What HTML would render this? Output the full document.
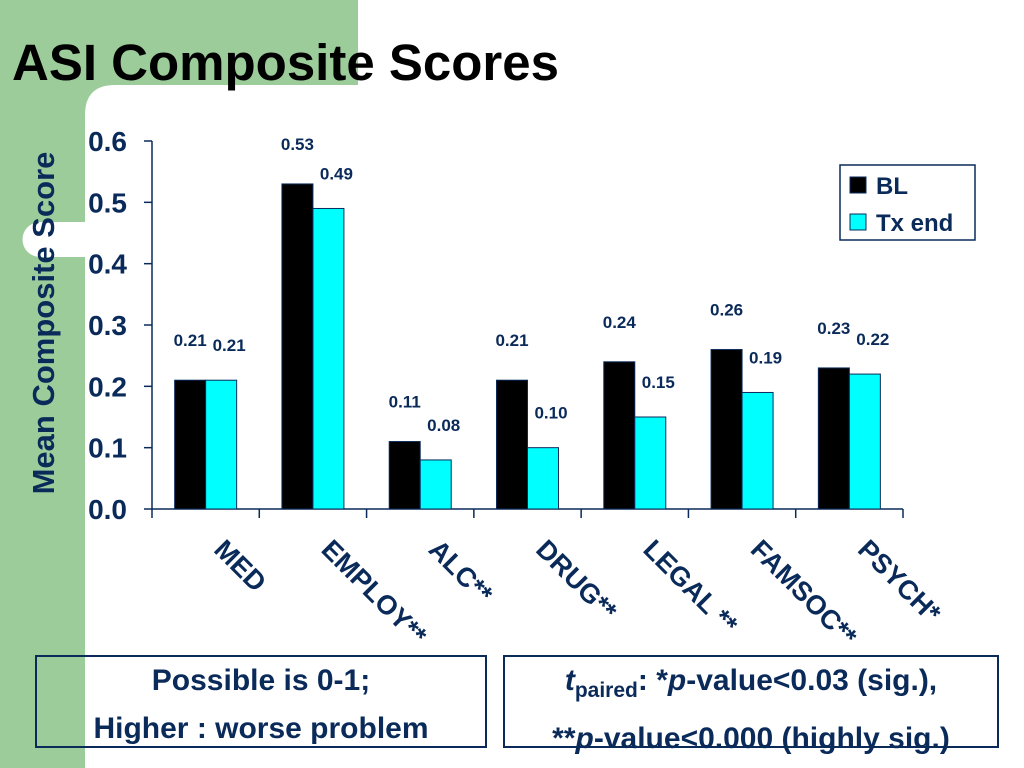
<!DOCTYPE html>
<html><head><meta charset="utf-8"><style>
body{margin:0;width:1024px;height:768px;overflow:hidden;background:#fff;font-family:"Liberation Sans",sans-serif;}
.box{position:absolute;border:2px solid #0a2a5a;color:#0a2a5a;font-weight:bold;font-size:30px;text-align:center;line-height:48px;box-sizing:border-box;}
</style></head><body>
<svg width="1024" height="768" style="position:absolute;left:0;top:0">
<path d="M0 0H358V85H115Q85 85 85 115V768H0Z" fill="#9ccc99"/>
<path d="M85 222H40A17.5 17.5 0 0 0 40 257H85Z" fill="#fff"/>
<text x="12" y="80" font-size="51" font-weight="bold" fill="#000">ASI Composite Scores</text>
<text transform="translate(54,323) rotate(-90)" text-anchor="middle" font-size="31" font-weight="bold" fill="#0a2a5a">Mean Composite Score</text>
<g id="chart"></g>
<g>
<rect x="840" y="165" width="135" height="75" fill="#fff" stroke="#0a2a5a" stroke-width="1.5"/>
<rect x="850" y="177" width="16" height="16" fill="#000" stroke="#0a2a5a"/>
<text x="876" y="194" font-size="24" font-weight="bold" fill="#0a2a5a">BL</text>
<rect x="850" y="214" width="16" height="16" fill="#00ffff" stroke="#0a2a5a"/>
<text x="876" y="231" font-size="24" font-weight="bold" fill="#0a2a5a">Tx end</text>
</g>
</svg>
<div class="box" style="left:35px;top:655px;width:452px;height:93px">Possible is 0-1;<br>Higher : worse problem</div>
<div class="box" style="left:503px;top:655px;width:496px;height:93px"><i>t</i><sub style="font-size:21px">paired</sub>: *<i>p</i>-value&lt;0.03 (sig.),<br>**<i>p</i>-value&lt;0.000 (highly sig.)</div>
<script>
const categories=["MED","EMPLOY**","ALC**","DRUG**","LEGAL **","FAMSOC**","PSYCH*"];
const blValues=[0.21,0.53,0.11,0.21,0.24,0.26,0.23];
const txValues=[0.21,0.49,0.08,0.10,0.15,0.19,0.22];
const yTicks=[0,0.1,0.2,0.3,0.4,0.5,0.6];
const NS="http://www.w3.org/2000/svg";
const g=document.getElementById("chart");
const x0=152,x1=903,y0=509,yTop=141;
const y=v=>y0-(v/0.6)*(y0-yTop);
const step=(x1-x0)/categories.length;
const xc=i=>x0+step*(i+0.5);
function el(t,a){const e=document.createElementNS(NS,t);for(const k in a)e.setAttribute(k,a[k]);g.appendChild(e);return e;}
const ax=el("path",{d:`M${x0} ${yTop}V${y0}H${x1}`,stroke:"#0a2a5a","stroke-width":1.5,fill:"none"});


yTicks.forEach(v=>{
 el("line",{x1:x0-8,x2:x0,y1:y(v),y2:y(v),stroke:"#0a2a5a","stroke-width":1.5});
 const t=el("text",{x:x0-25,y:y(v)+10,"text-anchor":"end","font-size":28,"font-weight":"bold",fill:"#0a2a5a"});
 t.textContent=v.toFixed(1);
 
 
});
for(let i=0;i<=categories.length;i++){el("line",{x1:x0+step*i,x2:x0+step*i,y1:y0,y2:y0+9,stroke:"#0a2a5a","stroke-width":1.5});}
const bw=31;
categories.forEach((c,i)=>{
 const cx=xc(i);
 const b=el("rect",{x:cx-bw,y:y(blValues[i]),width:bw,height:y0-y(blValues[i]),fill:"#000",stroke:"#0a2a5a"});
 
 
 const t=el("rect",{x:cx,y:y(txValues[i]),width:bw,height:y0-y(txValues[i]),fill:"#00ffff",stroke:"#0a2a5a"});
 
 
 const l1=el("text",{x:cx-bw/2,y:y(blValues[i])-34,"text-anchor":"middle","font-size":17,"font-weight":"bold",fill:"#0a2a5a"});
 l1.textContent=blValues[i].toFixed(2);
 
 
 const l2=el("text",{x:cx+bw/2+8,y:y(txValues[i])-29,"text-anchor":"middle","font-size":17,"font-weight":"bold",fill:"#0a2a5a"});
 l2.textContent=txValues[i].toFixed(2);
 
 
 const cl=el("text",{transform:`translate(${cx+7},${y0+42}) rotate(45)`,"font-size":27,"font-weight":"bold",fill:"#0a2a5a"});
 cl.textContent=c;
 
 
});
</script>
</body></html>
